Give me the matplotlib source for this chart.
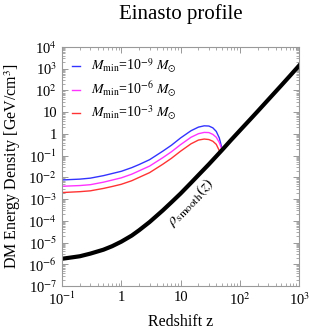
import matplotlib
matplotlib.use("Agg")
from matplotlib import pyplot as plt
from matplotlib.ticker import LogLocator, FixedLocator, NullFormatter

plt.rcParams['font.family'] = ['Liberation Serif', 'DejaVu Serif']
plt.rcParams['mathtext.fontset'] = 'stix'

# smooth background density
z_smooth = [0.1, 0.15, 0.2, 0.3, 0.5, 0.7, 1, 1.5, 2, 3, 5, 7, 10, 15, 20, 30, 50, 70, 100, 150, 200, 300, 500, 700, 1000]
rho_smooth = [1.8e-6, 2.1e-6, 2.35e-6, 3.1e-6, 4.7e-6, 6.8e-6, 1.1e-5, 2.1e-5, 3.7e-5, 8.8e-5, 3.0e-4, 7.1e-4,
              1.8e-3, 5.6e-3, 1.27e-2, 4.0e-2, 0.18, 0.5, 1.43, 4.7, 11, 37, 170, 470, 1400]

# halo contributions for three minimum masses
z_halo = [0.1, 0.2, 0.3, 0.5, 0.7, 1, 1.5, 2, 3, 5, 7, 10, 15, 20, 25, 30, 35, 40, 45, 50]
rho_m9 = [7.6e-3, 8.3e-3, 9.2e-3, 1.2e-2, 1.5e-2, 1.9e-2, 2.8e-2, 3.9e-2, 6.5e-2, 0.16, 0.3, 0.65, 1.4, 2.05, 2.35,
          2.3, 1.9, 1.3, 0.65, 0.21]
rho_m6 = [3.9e-3, 4.2e-3, 4.6e-3, 6.0e-3, 7.5e-3, 9.5e-3, 1.4e-2, 2.0e-2, 3.3e-2, 8.0e-2, 0.15, 0.32, 0.7, 1.02, 1.17,
          1.15, 0.95, 0.7, 0.4, 0.19]
z_red = [0.1, 0.2, 0.3, 0.5, 0.7, 1, 1.5, 2, 3, 5, 7, 10, 15, 20, 25, 30, 35, 40, 46]
rho_m3 = [2.0e-3, 2.2e-3, 2.4e-3, 3.1e-3, 3.8e-3, 4.8e-3, 7.0e-3, 1.0e-2, 1.65e-2, 4.0e-2, 7.5e-2, 0.16, 0.35, 0.52,
          0.58, 0.55, 0.46, 0.33, 0.15]

labels = [r'$M_{\rm min}$=10$^{-9}$ $M_{\odot}$', r'$M_{\rm min}$=10$^{-6}$ $M_{\odot}$',
          r'$M_{\rm min}$=10$^{-3}$ $M_{\odot}$']

xticks = [0.1, 1, 10, 100, 1000]
xticklabels = [r'10$^{-1}$', '1', '10', r'10$^{2}$', r'10$^{3}$']
yticks = [1e-7, 1e-6, 1e-5, 1e-4, 1e-3, 1e-2, 1e-1, 1, 10, 100, 1e3, 1e4]
yticklabels = [r'10$^{-7}$', r'10$^{-6}$', r'10$^{-5}$', r'10$^{-4}$', r'10$^{-3}$', r'10$^{-2}$', r'10$^{-1}$',
               '1', '10', r'10$^{2}$', r'10$^{3}$', r'10$^{4}$']

fig = plt.figure(figsize=(3.1, 3.33), dpi=100)
ax = fig.add_axes([0.2, 0.141, 0.765, 0.718])

ax.plot(z_halo, rho_m9, color='#3333ff', lw=1.0, label=labels[0])
ax.plot(z_halo, rho_m6, color='#ff33ff', lw=1.0, label=labels[1])
ax.plot(z_red, rho_m3, color='#ff3333', lw=1.0, label=labels[2])
ax.plot(z_smooth, rho_smooth, color='black', lw=3.0)

ax.set_xscale('log')
ax.set_yscale('log')
ax.set_xlim(0.1, 1000)
ax.set_ylim(1e-7, 1e4)

ax.xaxis.set_major_locator(FixedLocator(xticks))
ax.set_xticklabels(xticklabels)
ax.yaxis.set_major_locator(FixedLocator(yticks))
ax.set_yticklabels(yticklabels)
ax.xaxis.set_minor_locator(LogLocator(base=10, subs=range(2, 10), numticks=20))
ax.yaxis.set_minor_locator(LogLocator(base=10, subs=range(2, 10), numticks=20))
ax.xaxis.set_minor_formatter(NullFormatter())
ax.yaxis.set_minor_formatter(NullFormatter())
ax.tick_params(which='both', direction='in', top=True, right=True, color='#888888', labelsize=10.5)
ax.tick_params(which='major', length=4, width=0.6)
ax.tick_params(which='minor', length=2, width=0.5)
for s in ax.spines.values():
	s.set_color('#999999')
	s.set_linewidth(0.8)

ax.set_xlabel('Redshift z', fontsize=11.5)
ax.set_ylabel(r'DM Energy Density [GeV/cm$^3$]', fontsize=11.5)
ax.set_title('Einasto profile', fontsize=15, pad=20)

ax.text(0.54, 0.35, r'$\rho_{\rm smooth}(z)$', transform=ax.transAxes, rotation=46, fontsize=11.5,
        ha='center', va='center')

ax.legend(loc='upper left', frameon=False, fontsize=10, handlelength=0.6, handletextpad=0.8,
          labelspacing=0.32, borderaxespad=0.3)

plt.savefig('out.png', dpi=100)
